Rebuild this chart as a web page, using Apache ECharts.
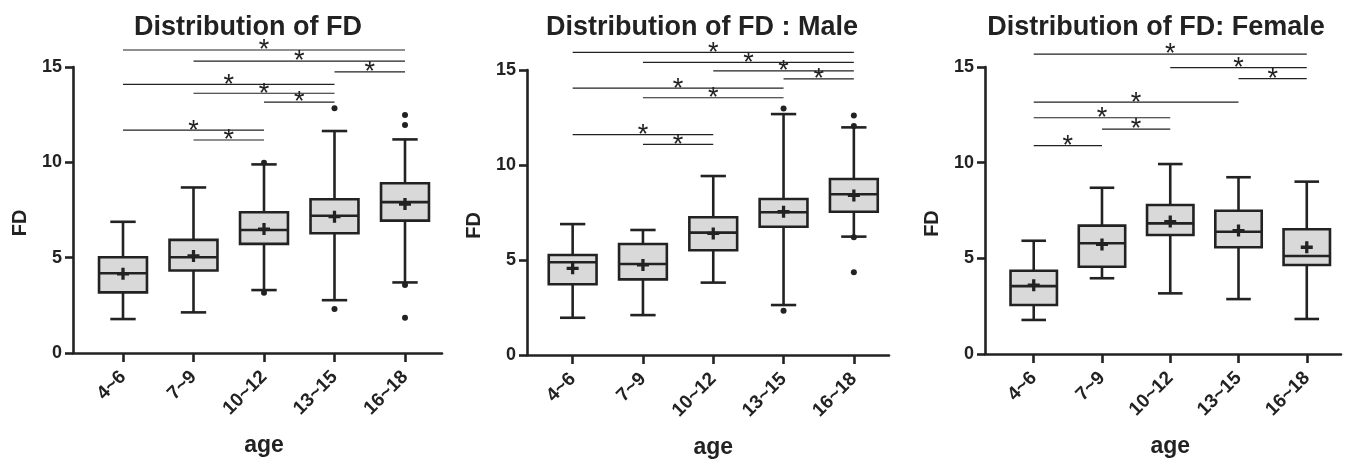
<!DOCTYPE html>
<html>
<head>
<meta charset="utf-8">
<script src="https://cdn.jsdelivr.net/npm/echarts@6/dist/echarts.min.js"></script>
<style>
  html, body { margin: 0; padding: 0; background: #fff; }
  #chart { width: 1346px; height: 459px; }
</style>
</head>
<body>
<div id="chart"></div>
<script>
const ageGroups = ['4~6', '7~9', '10~12', '13~15', '16~18']

// box values per age group: [min, Q1, median, Q3, max]
const boxAll = [[1.78, 3.18, 4.18, 5.02, 6.88], [2.13, 4.33, 5.02, 5.93, 8.68], [3.30, 5.72, 6.45, 7.38, 9.89], [2.77, 6.28, 7.20, 8.06, 11.64], [3.70, 6.94, 7.91, 8.90, 11.20]]
const meanAll = [4.15, 5.09, 6.50, 7.15, 7.81]
const outlierAll = [[2, 9.97], [2, 3.16], [3, 12.83], [3, 2.31], [4, 12.48], [4, 11.96], [4, 3.57], [4, 1.85]]
// significance bars: [from group, to group, level]
const sigAll = [[0, 4, 15.89], [1, 4, 15.31], [3, 4, 14.74], [0, 3, 14.09], [1, 3, 13.62], [2, 3, 13.16], [0, 2, 11.69], [1, 2, 11.17]]

const boxMale = [[1.96, 3.72, 4.88, 5.26, 6.89], [2.10, 3.98, 4.79, 5.84, 6.58], [3.81, 5.51, 6.44, 7.25, 9.42], [2.63, 6.75, 7.51, 8.21, 12.68], [6.23, 7.54, 8.46, 9.26, 11.98]]
const meanMale = [4.56, 4.74, 6.40, 7.54, 8.40]
const outlierMale = [[3, 12.98], [3, 2.33], [4, 12.60], [4, 12.05], [4, 6.20], [4, 4.35]]
const sigMale = [[0, 4, 15.93], [1, 4, 15.40], [2, 4, 14.95], [3, 4, 14.53], [0, 3, 14.05], [1, 3, 13.54], [0, 2, 11.60], [1, 2, 11.09]]

const boxFemale = [[1.78, 2.56, 3.55, 4.35, 5.92], [3.96, 4.56, 5.79, 6.71, 8.69], [3.17, 6.22, 6.83, 7.79, 9.93], [2.87, 5.58, 6.39, 7.49, 9.24], [1.83, 4.65, 5.12, 6.52, 9.01]]
const meanFemale = [3.60, 5.73, 6.92, 6.45, 5.58]
const outlierFemale = []
const sigFemale = [[0, 4, 15.68], [2, 4, 14.97], [3, 4, 14.39], [0, 3, 13.17], [0, 2, 12.35], [1, 2, 11.76], [0, 1, 10.89]]

const ink = '#222'
const font = 'Liberation Sans, Arial, sans-serif'

// layout of the three panels (pixels)
const panels = [
  { title: 'Distribution of FD', titleX: 243, axisLeft: 73, axisRight: 442, plotLeft: 87.75, plotWidth: 352.5, zeroY: 353, unit: 19.07,
    box: boxAll, mean: meanAll, outliers: outlierAll, sig: sigAll },
  { title: 'Distribution of FD : Male', titleX: 697, axisLeft: 527, axisRight: 889, plotLeft: 537.5, plotWidth: 351.5, zeroY: 355, unit: 19.0,
    box: boxMale, mean: meanMale, outliers: outlierMale, sig: sigMale },
  { title: 'Distribution of FD: Female', titleX: 1151, axisLeft: 985, axisRight: 1341, plotLeft: 999.6, plotWidth: 341.3, zeroY: 354, unit: 19.13,
    box: boxFemale, mean: meanFemale, outliers: outlierFemale, sig: sigFemale }
]

function renderBox(params, api) {
  const x = api.value(0)
  const lo = api.coord([x, api.value(1)])
  const q1 = api.coord([x, api.value(2)])
  const med = api.coord([x, api.value(3)])
  const q3 = api.coord([x, api.value(4)])
  const hi = api.coord([x, api.value(5)])
  const band = api.size([1, 0])[0]
  const bw = band * 0.68
  const cw = band * 0.36
  const cx = lo[0]
  const line = { stroke: ink, lineWidth: 2.6 }
  return {
    type: 'group',
    children: [
      { type: 'line', shape: { x1: cx, y1: hi[1], x2: cx, y2: q3[1] }, style: line },
      { type: 'line', shape: { x1: cx, y1: q1[1], x2: cx, y2: lo[1] }, style: line },
      { type: 'line', shape: { x1: cx - cw / 2, y1: hi[1], x2: cx + cw / 2, y2: hi[1] }, style: line },
      { type: 'line', shape: { x1: cx - cw / 2, y1: lo[1], x2: cx + cw / 2, y2: lo[1] }, style: line },
      { type: 'rect', shape: { x: cx - bw / 2, y: q3[1], width: bw, height: q1[1] - q3[1] },
        style: { fill: '#d9d9d9', stroke: ink, lineWidth: 2.6 } },
      { type: 'line', shape: { x1: cx - bw / 2, y1: med[1], x2: cx + bw / 2, y2: med[1] }, style: line }
    ]
  }
}

function renderSig(params, api) {
  const a = api.coord([api.value(0), api.value(2)])
  const b = api.coord([api.value(1), api.value(2)])
  return {
    type: 'group',
    children: [
      { type: 'line', shape: { x1: a[0], y1: a[1], x2: b[0], y2: b[1] }, style: { stroke: ink, lineWidth: 1.2 } },
      { type: 'text', x: (a[0] + b[0]) / 2, y: a[1] + 1,
        style: { text: '*', fill: ink, font: '27px ' + font, align: 'center', verticalAlign: 'middle' } }
    ]
  }
}

const option = { animation: false, title: [], grid: [], xAxis: [], yAxis: [], series: [] }

panels.forEach((p, i) => {
  const ga = 2 * i, gb = 2 * i + 1
  option.title.push({
    text: p.title, left: p.titleX, top: 9, textAlign: 'center',
    textStyle: { fontSize: 27, fontWeight: 'bold', fontFamily: font, color: ink }
  })
  option.grid.push({ left: p.axisLeft, width: p.axisRight - p.axisLeft, top: p.zeroY - 15 * p.unit, height: 15 * p.unit, outerBoundsMode: 'none' })
  option.grid.push({ left: p.plotLeft, width: p.plotWidth, top: p.zeroY - 17 * p.unit, height: 17 * p.unit, outerBoundsMode: 'none' })

  option.xAxis.push({
    gridIndex: ga, type: 'value', min: 0, max: 1,
    axisLine: { show: true, onZero: false, lineStyle: { color: ink, width: 2.6 } },
    axisTick: { show: false }, axisLabel: { show: false }, splitLine: { show: false }
  })
  option.xAxis.push({
    gridIndex: gb, type: 'category', data: ageGroups,
    axisLine: { show: false },
    axisTick: { show: true, alignWithLabel: true, length: 9, lineStyle: { color: ink, width: 2.6 } },
    axisLabel: { rotate: 45, margin: 21, fontSize: 19, fontWeight: 'bold', fontFamily: font, color: ink },
    name: 'age', nameLocation: 'middle', nameGap: 81,
    nameTextStyle: { fontSize: 23, fontWeight: 'bold', fontFamily: font, color: ink }
  })
  option.yAxis.push({
    gridIndex: ga, type: 'value', min: 0, max: 15, interval: 5,
    axisLine: { show: true, lineStyle: { color: ink, width: 2.6 } },
    axisTick: { show: true, length: 8, lineStyle: { color: ink, width: 2.6 } },
    axisLabel: { margin: 11, fontSize: 18, fontWeight: 'bold', fontFamily: font, color: ink },
    splitLine: { show: false },
    name: 'FD', nameLocation: 'middle', nameGap: 43,
    nameTextStyle: { fontSize: 20, fontWeight: 'bold', fontFamily: font, color: ink, padding: [0, 26, 0, 0] }
  })
  option.yAxis.push({ gridIndex: gb, type: 'value', min: 0, max: 17, show: false })

  option.series.push({
    type: 'custom', xAxisIndex: gb, yAxisIndex: gb, renderItem: renderBox, z: 2,
    encode: { x: 0, y: [1, 2, 3, 4, 5] },
    data: p.box.map((b, k) => [k].concat(b))
  })
  option.series.push({
    type: 'scatter', xAxisIndex: gb, yAxisIndex: gb, z: 5,
    symbol: 'path://M4,0h3v11h-3z M0,4h11v3h-11z', symbolSize: 12,
    itemStyle: { color: ink, opacity: 1 },
    data: p.mean.map((m, k) => [k, m])
  })
  option.series.push({
    type: 'scatter', xAxisIndex: gb, yAxisIndex: gb, z: 5,
    symbol: 'circle', symbolSize: 6, itemStyle: { color: ink, opacity: 1 },
    data: p.outliers
  })
  option.series.push({
    type: 'custom', xAxisIndex: gb, yAxisIndex: gb, renderItem: renderSig, z: 3,
    encode: { x: [0, 1], y: 2 },
    data: p.sig
  })
})

const chart = echarts.init(document.getElementById('chart'))
chart.setOption(option)
</script>
</body>
</html>
